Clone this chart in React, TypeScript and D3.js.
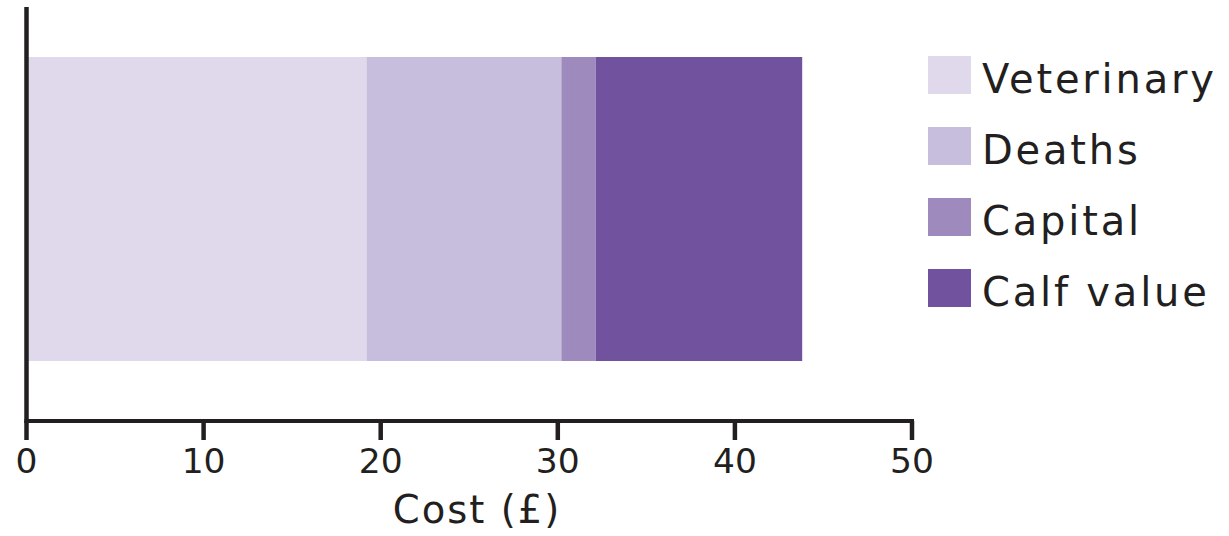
import React from "react";
import * as d3 from "d3";

const categories = ["Veterinary", "Deaths", "Capital", "Calf value"];
const values = [19.2, 11.0, 1.95, 11.65];
const colors = ["#e0d9ec", "#c7bedd", "#9e8abd", "#71529e"];
const xTicks = [0, 10, 20, 30, 40, 50];
const xLabel = "Cost (£)";

const W = 1229;
const H = 536;
const FONT = "'DejaVu Sans', 'Open Sans', sans-serif";
const INK = "#231f20";

export default function App() {
  const x = d3.scaleLinear().domain([0, 50]).range([26.5, 912]);
  const y = d3.scaleBand<string>().domain(["cost"]).range([57, 361]).padding(0);

  let acc = 0;
  const segs = values.map((v, i) => {
    const s = { name: categories[i], x0: acc, x1: acc + v, color: colors[i] };
    acc += v;
    return s;
  });

  const axisY = 421;
  return (
    <svg width={W} height={H} style={{ position: "absolute", left: 0, top: 0, background: "#fff" }}>
      {segs.map((s) => (
        <rect
          key={s.name}
          x={x(s.x0)}
          y={y("cost")}
          width={x(s.x1) - x(s.x0)}
          height={y.bandwidth()}
          fill={s.color}
        />
      ))}
      <line x1={x(0)} x2={x(0)} y1={7} y2={axisY + 2} stroke={INK} strokeWidth={4.5} />
      <line x1={x(0) - 2} x2={x(50) + 2} y1={axisY} y2={axisY} stroke={INK} strokeWidth={4} />
      {xTicks.map((t) => (
        <g key={t}>
          <line x1={x(t)} x2={x(t)} y1={axisY} y2={440} stroke={INK} strokeWidth={4.5} />
          <text
            x={x(t)}
            y={473}
            textAnchor="middle"
            fontFamily={FONT}
            fontSize={34.5}
            fill={INK}
          >
            {t}
          </text>
        </g>
      ))}
      <text
        x={477}
        y={523}
        textAnchor="middle"
        fontFamily={FONT}
        fontSize={38.5}
        letterSpacing={2}
        fill={INK}
      >
        {xLabel}
      </text>
      {categories.map((c, i) => (
        <g key={c} transform={`translate(928, ${56 + i * 71})`}>
          <rect x={0} y={0} width={43} height={38} fill={colors[i]} />
          <text x={54} y={37} fontFamily={FONT} fontSize={40} letterSpacing={2.8} fill={INK}>
            {c}
          </text>
        </g>
      ))}
    </svg>
  );
}
